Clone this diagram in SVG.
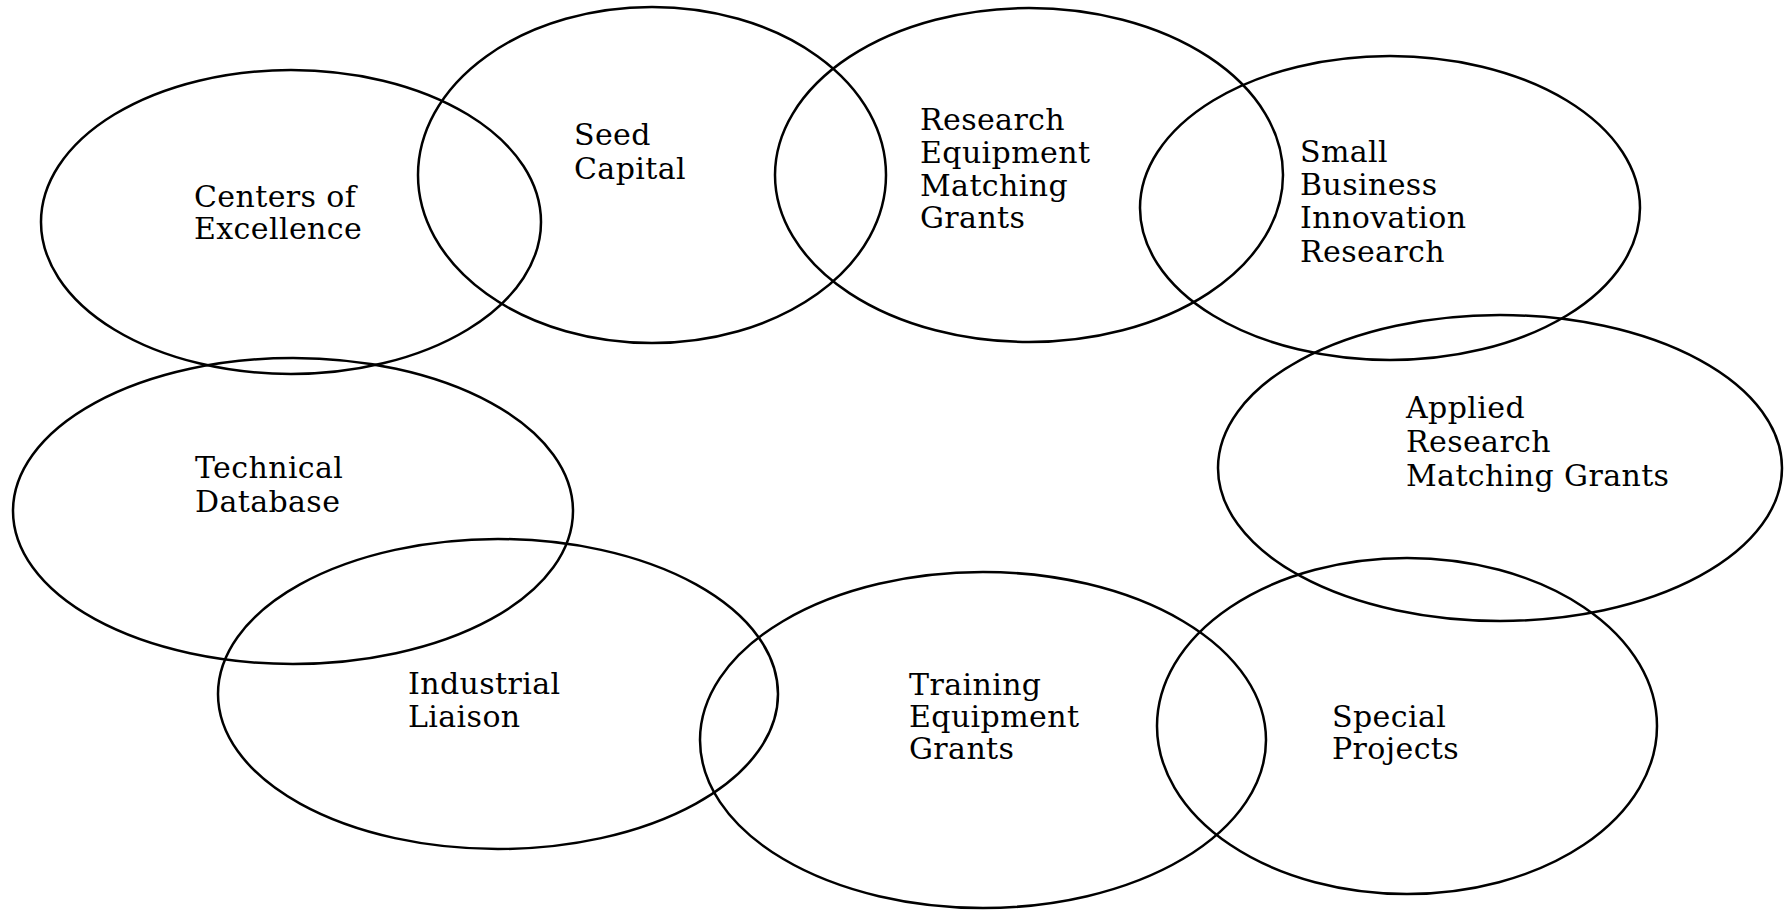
<svg xmlns="http://www.w3.org/2000/svg" width="1787" height="911" viewBox="0 0 1787 911">
<style>
.e{fill:none;stroke:#000;stroke-width:2.5}
.t{font-family:"DejaVu Serif","Liberation Serif",serif;font-size:30px;letter-spacing:0.4px;fill:#000}
</style>
<rect width="1787" height="911" fill="#fff"/>
<g id="connectors"/>
<g id="centers-of-excellence">
<ellipse class="e" cx="291" cy="222" rx="250" ry="152"/>
<text class="t" x="194" y="207">Centers of</text>
<text class="t" x="194" y="239">Excellence</text>
</g>
<g id="seed-capital">
<ellipse class="e" cx="652" cy="175" rx="234" ry="168"/>
<text class="t" x="574" y="145">Seed</text>
<text class="t" x="574" y="179">Capital</text>
</g>
<g id="research-equipment-matching-grants">
<ellipse class="e" cx="1029" cy="175" rx="254" ry="167"/>
<text class="t" x="920" y="130">Research</text>
<text class="t" x="920" y="163">Equipment</text>
<text class="t" x="920" y="196">Matching</text>
<text class="t" x="920" y="228">Grants</text>
</g>
<g id="small-business-innovation-research">
<ellipse class="e" cx="1390" cy="208" rx="250" ry="152"/>
<text class="t" x="1300" y="162">Small</text>
<text class="t" x="1300" y="195">Business</text>
<text class="t" x="1300" y="228">Innovation</text>
<text class="t" x="1300" y="262">Research</text>
</g>
<g id="applied-research-matching-grants">
<ellipse class="e" cx="1500" cy="468" rx="282" ry="153"/>
<text class="t" x="1406" y="418">Applied</text>
<text class="t" x="1406" y="452">Research</text>
<text class="t" x="1406" y="486">Matching Grants</text>
</g>
<g id="technical-database">
<ellipse class="e" cx="293" cy="511" rx="280" ry="153"/>
<text class="t" x="195" y="478">Technical</text>
<text class="t" x="195" y="512">Database</text>
</g>
<g id="industrial-liaison">
<ellipse class="e" cx="498" cy="694" rx="280" ry="155"/>
<text class="t" x="408" y="694">Industrial</text>
<text class="t" x="408" y="727">Liaison</text>
</g>
<g id="training-equipment-grants">
<ellipse class="e" cx="983" cy="740" rx="283" ry="168"/>
<text class="t" x="909" y="695">Training</text>
<text class="t" x="909" y="727">Equipment</text>
<text class="t" x="909" y="759">Grants</text>
</g>
<g id="special-projects">
<ellipse class="e" cx="1407" cy="726" rx="250" ry="168"/>
<text class="t" x="1332" y="727">Special</text>
<text class="t" x="1332" y="759">Projects</text>
</g>
</svg>
